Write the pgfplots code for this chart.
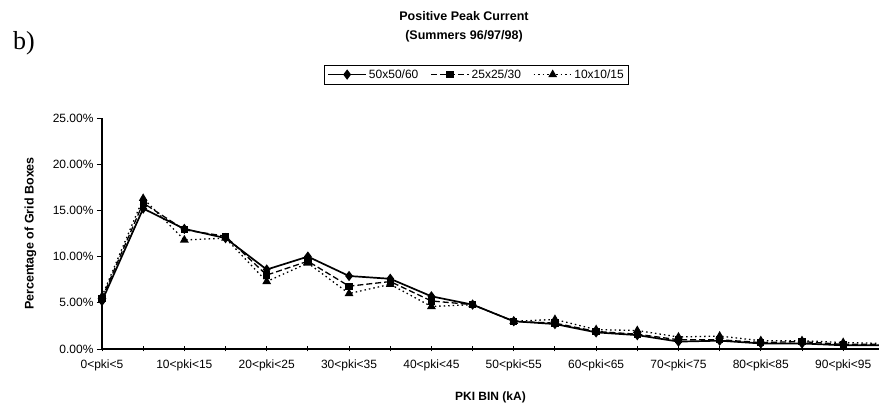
\documentclass[border=0pt]{standalone}
\usepackage{fontspec}
\setmainfont{Liberation Sans}
\newfontfamily\seriffont{Liberation Serif}
\usepackage{pgfplots}
\pgfplotsset{compat=1.18}
\pgfplotstableread{
x a b c
0 5.2 5.5 5.7
1 15.2 15.8 16.3
2 13.0 12.9 11.8
3 12.0 12.2 12.0
4 8.6 8.0 7.3
5 10.0 9.5 9.3
6 7.9 6.8 6.0
7 7.6 7.3 7.0
8 5.7 5.2 4.6
9 4.8 4.8 4.8
10 3.0 3.0 3.0
11 2.7 2.8 3.2
12 1.8 1.9 2.1
13 1.5 1.6 2.0
14 0.8 1.0 1.3
15 0.9 1.0 1.4
16 0.6 0.7 0.9
17 0.6 0.8 0.9
18 0.4 0.5 0.7
19 0.4 0.5 0.6
}\datatable
\begin{document}
\begin{tikzpicture}[x=1pt,y=1pt]
\useasboundingbox (0,0) rectangle (879,407);
\node[font=\seriffont\fontsize{26}{26}\selectfont] at (24,364) {b)};
\node[font=\bfseries\fontsize{12.5}{19}\selectfont, align=center] at (464,380) {Positive Peak Current\\(Summers 96/97/98)};
\begin{axis}[
  at={(102pt,58pt)}, anchor=south west,
  scale only axis, width=777pt, height=231pt,
  xmin=0, xmax=18.87, ymin=0, ymax=25,
  axis lines=left, axis line style={-, line width=1.3pt},
  xtick={0,...,18},
  xticklabels={0<pki<5,,10<pki<15,,20<pki<25,,30<pki<35,,40<pki<45,,50<pki<55,,60<pki<65,,70<pki<75,,80<pki<85,,90<pki<95,},
  ytick={0,5,10,15,20,25},
  yticklabels={0.00\%,5.00\%,10.00\%,15.00\%,20.00\%,25.00\%},
  tick align=outside, major tick length=5pt,
  tick style={black, line width=0.9pt},
  xtick style={yshift=2.5pt},
  ticklabel style={font=\fontsize{12}{13}\selectfont},
  xticklabel style={yshift=-2pt},
  xlabel={PKI BIN (kA)},
  ylabel={Percentage of Grid Boxes},
  xlabel style={font=\bfseries\fontsize{12}{13}\selectfont, at={(axis description cs:0.5,-0.208)}, anchor=center},
  ylabel style={font=\bfseries\fontsize{12.5}{13}\selectfont, at={(axis description cs:-0.092,0.5)}, anchor=center, rotate=0},
  legend columns=3,
  legend style={at={(0.482,1.188)}, anchor=center, draw=black, line width=0.9pt,
    font=\fontsize{12}{13}\selectfont, inner sep=2.5pt,
    /tikz/every even column/.append style={column sep=10pt}},
  legend image code/.code={\draw[mark repeat=2,mark phase=2,#1] plot coordinates {(0pt,0pt) (19pt,0pt) (38pt,0pt)};},
]
\addplot[black, line width=1.7pt, mark=diamond*, mark size=3.8pt, mark options={solid}] table[x=x,y=a] {\datatable};
\addlegendentry{50x50/60}
\addplot[black, line width=1.3pt, dash pattern=on 6pt off 3pt, mark=square*, mark size=3pt, mark options={solid}] table[x=x,y=b] {\datatable};
\addlegendentry{25x25/30}
\addplot[black, line width=1.3pt, dash pattern=on 1.5pt off 3pt, mark=triangle*, mark size=3.8pt, mark options={solid}] table[x=x,y=c] {\datatable};
\addlegendentry{10x10/15}
\end{axis}
\end{tikzpicture}
\end{document}
